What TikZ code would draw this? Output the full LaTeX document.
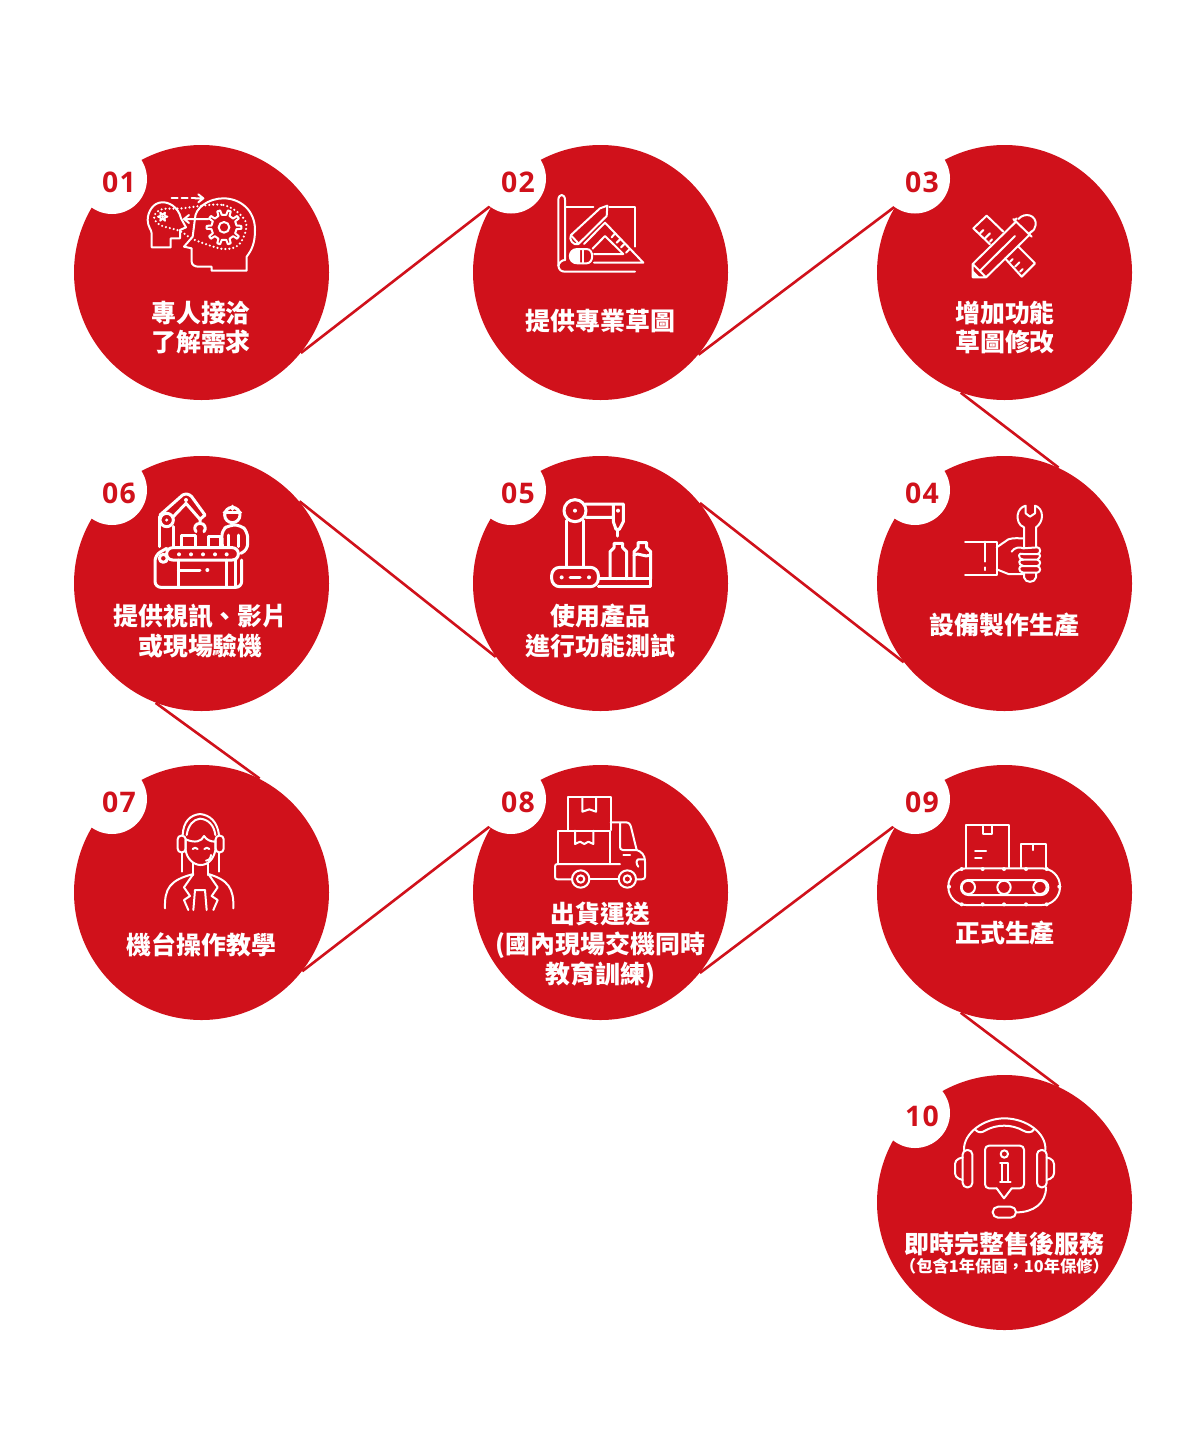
\documentclass[tikz,border=0pt]{standalone}
\usepackage{fontspec}
\setmainfont{Noto Sans}
\newfontfamily\cjk{Noto Sans CJK TC}
\newfontfamily\numf[LetterSpace=5]{Open Sans}
\definecolor{brandred}{HTML}{D0111B}
\tikzset{
  bigdisc/.style={circle,fill=brandred,draw=none,minimum size=127.5pt,inner sep=0pt},
  badge/.style={circle,fill=white,draw=none,minimum size=35pt,inner sep=0pt},
  numtext/.style={text=brandred,inner sep=0pt,font=\numf\bfseries\fontsize{14.2}{14.2}\selectfont},
  lab/.style={text=white,align=center,inner sep=0pt,font=\cjk\bfseries\fontsize{12.45}{14.9}\selectfont},
  labsmall/.style={text=white,align=center,inner sep=0pt,font=\cjk\bfseries\fontsize{8.15}{10}\selectfont},
  link/.style={draw=brandred,line width=1.3pt},
  zoomat/.style 2 args={shift={(#1,#2)},x=0.16667pt,y=-0.16667pt},
  thin icon/.style={draw=white,line width=1pt,line join=round,line cap=round,fill=none},
  thick icon/.style={draw=white,line width=1.5pt,line join=round,line cap=round,fill=none},
  white dot/.style={fill=white,draw=none},
}
\begin{document}
\begin{tikzpicture}[x=.5pt,y=-.5pt]
\useasboundingbox (0,0) rectangle (1200,1446);
% discs
\node[bigdisc] (c1) at (201.5,272.5) {};
\node[bigdisc] (c2) at (600.5,272.5) {};
\node[bigdisc] (c3) at (1004.5,272.5) {};
\node[bigdisc] (c6) at (201.5,583.5) {};
\node[bigdisc] (c5) at (600.5,583.5) {};
\node[bigdisc] (c4) at (1004.5,583.5) {};
\node[bigdisc] (c7) at (201.5,892.5) {};
\node[bigdisc] (c8) at (600.5,892.5) {};
\node[bigdisc] (c9) at (1004.5,892.5) {};
\node[bigdisc] (c10) at (1004.5,1202.5) {};
% connectors
\draw[link] (c1.-39) -- (c2.148);
\draw[link] (c2.-40.4) -- (c3.149);
\draw[link] (c3.-110.4) -- (c4.65);
\draw[link] (c4.218.3) -- (c5.39.3);
\draw[link] (c5.215.4) -- (c6.40.3);
\draw[link] (c6.-111.3) -- (c7.63.3);
\draw[link] (c7.-38.9) -- (c8.148.5);
\draw[link] (c8.-39.9) -- (c9.148.7);
\draw[link] (c9.-110.4) -- (c10.65);
% badges
\node[badge] (b1) at (112,179) {};
\node[badge] (b2) at (511,178.5) {};
\node[badge] (b3) at (915,178.5) {};
\node[badge] (b6) at (112,490) {};
\node[badge] (b5) at (511,490) {};
\node[badge] (b4) at (915,490) {};
\node[badge] (b7) at (112,799) {};
\node[badge] (b8) at (511,799) {};
\node[badge] (b9) at (915,799) {};
\node[badge] (b10) at (915,1113) {};
\node[numtext] (n1) at (119,182.5) {01};
\node[numtext] (n2) at (518,182.5) {02};
\node[numtext] (n3) at (922,182.5) {03};
\node[numtext] (n6) at (119,493.5) {06};
\node[numtext] (n5) at (518,493.5) {05};
\node[numtext] (n4) at (922,493.5) {04};
\node[numtext] (n7) at (119,802.5) {07};
\node[numtext] (n8) at (518,802.5) {08};
\node[numtext] (n9) at (922,802.5) {09};
\node[numtext] (n10) at (922,1116.5) {10};
% labels
\node[lab] (t1) at (201,327.5) {專人接洽\\了解需求};
\node[lab] (t2) at (600.5,321.5) {提供專業草圖};
\node[lab] (t3) at (1005,327.5) {增加功能\\草圖修改};
\node[lab] (t4) at (1004.5,625) {設備製作生產};
\node[lab] (t5) at (600.5,631) {使用產品\\進行功能測試};
\node[lab] (t6) at (200.5,631) {提供視訊、影片\\或現場驗機};
\node[lab] (t7) at (201.5,944.5) {機台操作教學};
\node[lab] (t8) at (600.5,945) {出貨運送\\(國內現場交機同時\\教育訓練)};
\node[lab] (t9) at (1005,933.5) {正式生產};
\node[lab] (t10) at (1004.5,1243.5) {即時完整售後服務};
\node[labsmall] (t10b) at (1004.5,1266) {（包含1年保固，10年保修）};
% icon 01
\begin{scope}[zoomat={80}{150}]
\draw[thin icon] (215,292) -- (272,292) -- (272,265) -- (300,265) -- (300,240) -- (318,232) -- (303,205)
  .. controls (295,170) and (265,155) .. (245,157) .. controls (220,158) and (203,185) .. (203,210)
  .. controls (203,230) and (215,240) .. (215,250) -- cycle;
\draw[thin icon] (500,362) -- (500,320) .. controls (515,300) and (525,280) .. (525,240)
  .. controls (525,180) and (480,145) .. (430,145) .. controls (385,145) and (345,175) .. (345,205)
  -- (338,260) -- (312,290) -- (335,295) -- (335,335) .. controls (335,345) and (345,350) .. (355,350)
  -- (395,350) -- (395,362) -- cycle;
\draw[draw=white,line width=1.2pt,line cap=round,dash pattern=on 0pt off 2pt] plot[smooth cycle,tension=.55] coordinates {(305,175) (430,165) (497,215) (480,280) (430,297) (340,268) (300,243) (240,225) (222,200) (245,178)};
\begin{scope}[shift={(432,232)}]
\draw[thin icon] (-8:38) \foreach \a in {0,36,...,324}{ -- (\a-8:38) -- (\a-5:52) -- (\a+5:52) -- (\a+8:38) -- (\a+28:38)} -- cycle;
\draw[thin icon] (0,0) circle (16);
\end{scope}
\begin{scope}[shift={(248,200)}]
\draw[thin icon] (-8:8) \foreach \a in {0,60,...,300}{ -- (\a-12:8) -- (\a:14) -- (\a+12:8) -- (\a+48:8)} -- cycle;
\fill[white dot] (0,0) circle (5);
\end{scope}
\draw[thin icon,dash pattern=on 3pt off 2pt] (275,145) -- (345,145);
\draw[thin icon] (345,145) -- (370,145) (355,133) -- (370,145) -- (355,157);
\draw[thin icon] (385,207) -- (312,207) (327,195) -- (312,207) -- (327,219);
\end{scope}
% icon 02
\begin{scope}[zoomat={490}{150}]
\draw[thin icon] (225,330) -- (225,150) .. controls (225,130) and (205,130) .. (205,150) -- (205,345) .. controls (205,360) and (215,365) .. (225,365) -- (435,365);
\draw[thin icon] (225,330) .. controls (215,330) and (207,338) .. (205,348);
\draw[thin icon] (225,172) -- (310,172) (358,172) -- (435,172) -- (435,290);
\draw[thin icon] (352,167) -- (330,175) -- (243,255) .. controls (235,268) and (250,288) .. (265,282) -- (350,198) -- cycle;
\draw[thin icon] (245,258) -- (265,280);
\draw[thin icon] (345,218) -- (282,282) (345,218) -- (460,338) -- (312,338);
\draw[thin icon] (345,258) -- (308,296) (345,258) -- (400,312) -- (312,312);
\draw[thin icon] (375,250) -- (365,262) (390,268) -- (380,278) (403,282) -- (393,292) (418,298) -- (408,308);
\draw[thin icon] (262,297) -- (290,297) .. controls (312,297) and (312,340) .. (290,340) -- (262,340) .. controls (232,340) and (232,297) .. (262,297) -- cycle;
\fill[white dot] (270,297) -- (262,297) .. controls (232,297) and (232,340) .. (262,340) -- (270,340) -- cycle;
\draw[thin icon] (280,297) -- (280,340);
\end{scope}
% icon 03
\begin{scope}[zoomat={890}{150}]
\draw[thin icon] (340,245) -- (290,197) -- (250,235) -- (300,283);
\draw[thin icon] (345,325) -- (395,380) -- (435,340) -- (385,290);
\draw[thin icon] (270,250) -- (280,240) (285,265) -- (300,250) (300,275) -- (306,268);
\draw[thin icon] (360,335) -- (368,327) (375,350) -- (388,337) (390,365) -- (398,357);
\draw[thin icon] (248,382) -- (248,342) -- (378,215) (248,382) -- (288,382) -- (418,255) (248,342) -- (288,382);
\draw[thin icon] (270,362) -- (375,258);
\draw[thin icon] (370,207) -- (425,260) (380,205) -- (372,212) (417,252) -- (425,244);
\draw[thin icon] (385,207) .. controls (405,185) and (440,195) .. (437,225) .. controls (437,235) and (430,242) .. (420,248);
\fill[white dot] (248,382) -- (248,360) -- (270,382) -- cycle;
\end{scope}
% icon 04
\begin{scope}[zoomat={940}{490}]
\draw[thin icon] (75,155) -- (170,155) -- (170,255) -- (75,255);
\draw[thin icon] (135,155) -- (135,215) (135,232) -- (135,240);
\draw[thin icon] (170,172) -- (205,148) .. controls (220,143) and (235,145) .. (250,145);
\draw[thin icon] (170,238) -- (205,252) -- (250,252);
\draw[thin icon] (215,185) .. controls (222,172) and (240,170) .. (250,175) -- (292,172) .. controls (303,172) and (303,192) .. (292,192) -- (250,192);
\draw[thin icon] (250,192) .. controls (235,185) and (230,205) .. (250,209) -- (292,209) .. controls (303,200) and (303,192) .. (292,192);
\draw[thin icon] (250,209) .. controls (235,205) and (232,225) .. (250,228) -- (292,228) .. controls (303,225) and (303,212) .. (292,209);
\draw[thin icon] (250,228) .. controls (235,225) and (232,245) .. (250,248) -- (292,248) .. controls (303,245) and (303,232) .. (292,228);
\draw[thin icon] (252,172) -- (252,112) .. controls (235,105) and (232,90) .. (233,75) .. controls (235,60) and (245,50) .. (257,47) -- (257,70) -- (270,80) -- (285,70) -- (285,47) .. controls (297,50) and (306,62) .. (306,78) .. controls (306,92) and (298,105) .. (288,112) -- (288,172);
\draw[thin icon] (252,250) -- (252,262) .. controls (255,280) and (285,280) .. (288,262) -- (288,250);
\end{scope}
% icon 05
\begin{scope}[zoomat={530}{480}]
\draw[thick icon,rounded corners=4pt] (65,320) -- (65,262) -- (205,262) -- (205,320) -- cycle;
\fill[white dot] (95,292) circle (6) (177,292) circle (6);
\draw[thick icon] (120,292) -- (150,292);
\draw[thick icon] (108,260) -- (108,122) (160,260) -- (160,122);
\draw[thick icon] (135,92) circle (33);
\fill[white dot] (135,92) circle (6);
\draw[thick icon] (167,72) -- (280,72) -- (280,125) -- (268,148) -- (258,148) -- (250,125) -- (250,72) (167,112) -- (250,112);
\fill[white dot] (264,92) circle (6);
\draw[thick icon] (263,148) -- (263,168);
\draw[thick icon] (240,296) -- (240,215) -- (252,203) -- (252,190) -- (278,190) -- (278,203) -- (290,215) -- (290,296);
\draw[thick icon] (312,296) -- (312,215) -- (324,203) -- (324,188) -- (350,188) -- (350,203) -- (362,215) -- (362,296);
\draw[thick icon] (312,225) .. controls (325,215) and (345,235) .. (362,225);
\draw[thick icon] (205,296) -- (362,296) -- (362,320) -- (205,320);
\end{scope}
% icon 06
\begin{scope}[zoomat={110}{480}]
\draw[thick icon,rounded corners=3pt] (170,203) -- (385,203) -- (385,240) -- (170,240) -- cycle;
\foreach \x in {207,243,279,315,350}{\fill[white dot] (\x,223) circle (6);}
\draw[thick icon] (160,235) circle (12);
\draw[thick icon,rounded corners=3pt] (170,205) -- (135,225) -- (135,322) -- (395,322) -- (395,240);
\draw[thick icon] (205,240) -- (205,322) (350,240) -- (350,322) (205,270) -- (270,270);
\fill[white dot] (292,270) circle (6);
\draw[thick icon] (215,200) -- (215,165) -- (255,165) -- (255,200) (295,200) -- (295,168) -- (330,168) -- (330,200);
\draw[thick icon] (148,200) -- (148,110) (190,200) -- (190,140);
\draw[thick icon] (170,120) circle (20);
\fill[white dot] (170,120) circle (5);
\draw[thick icon] (150,105) -- (218,45) .. controls (228,40) and (238,42) .. (245,50) -- (285,105) -- (270,118) -- (228,70) -- (188,112);
\fill[white dot] (228,60) circle (6);
\draw[thick icon] (270,118) -- (270,130) (270,130) .. controls (255,130) and (250,145) .. (258,155) (270,130) .. controls (285,130) and (290,145) .. (282,155);
\draw[thick icon] (367,105) circle (23);
\draw[thick icon] (342,98) -- (392,98) (367,78) -- (367,88);
\draw[thick icon,rounded corners=3pt] (337,200) -- (335,150) -- (358,135) -- (392,135) -- (413,155) -- (413,210) -- (392,220);
\draw[thick icon] (385,165) -- (385,200) (355,165) -- (355,200) (375,240) -- (375,322);
\end{scope}
% icon 07
\begin{scope}[zoomat={140}{800}]
\draw[thin icon] (128,105) .. controls (130,65) and (150,45) .. (180,42) .. controls (210,45) and (232,65) .. (237,105);
\draw[thin icon] (140,105) .. controls (145,75) and (160,58) .. (180,56) .. controls (205,58) and (222,75) .. (226,105);
\draw[thin icon,rounded corners=1.8pt] (113,107) rectangle (137,157);
\draw[thin icon,rounded corners=1.8pt] (227,107) rectangle (251,157);
\draw[thin icon] (137,120) -- (137,150) .. controls (140,175) and (160,195) .. (182,195) .. controls (205,195) and (222,175) .. (226,150) -- (226,120);
\draw[thin icon] (137,118) .. controls (165,130) and (185,125) .. (192,108) .. controls (200,120) and (212,125) .. (226,125);
\draw[thin icon] (158,147) .. controls (163,142) and (168,142) .. (173,147) (193,147) .. controls (198,142) and (203,142) .. (208,147);
\draw[thin icon] (213,165) .. controls (212,175) and (208,180) .. (198,182);
\draw[thin icon] (125,157) -- (125,215) (237,157) -- (237,215);
\draw[thin icon] (160,190) -- (160,225) (205,190) -- (205,225);
\draw[thin icon] (75,325) .. controls (73,265) and (90,240) .. (160,222) -- (132,262) -- (150,288) -- (132,300) -- (145,330);
\draw[thin icon] (280,325) .. controls (282,265) and (265,240) .. (205,222) -- (233,262) -- (215,288) -- (233,300) -- (220,330);
\draw[thin icon] (160,330) -- (165,270) -- (195,270) -- (200,330);
\end{scope}
% icon 08
\begin{scope}[zoomat={540}{790}]
\draw[thin icon] (85,120) -- (85,22) -- (212,22) -- (212,120);
\draw[thin icon] (127,22) -- (127,65) -- (148,58) -- (168,65) -- (168,22);
\draw[thin icon] (55,222) -- (55,122) -- (210,122) -- (210,222);
\draw[thin icon] (105,122) -- (105,162) -- (120,155) -- (133,162) -- (145,155) -- (160,162) -- (160,122);
\draw[thin icon] (212,97) -- (258,97) .. controls (268,97) and (272,105) .. (274,115) -- (290,180) -- (248,180) .. controls (242,180) and (240,175) .. (240,170) -- (240,97);
\draw[thin icon] (290,180) .. controls (305,185) and (315,195) .. (315,215) -- (315,260) .. controls (315,265) and (312,268) .. (305,268) -- (288,268);
\draw[thin icon] (250,195) -- (270,195);
\draw[thin icon] (315,208) -- (295,208) .. controls (288,210) and (288,222) .. (295,230);
\draw[thin icon] (95,268) -- (52,268) .. controls (47,268) and (45,265) .. (45,260) -- (45,230) .. controls (45,225) and (47,222) .. (52,222) -- (240,222);
\draw[thin icon] (148,268) -- (235,268);
\draw[thin icon] (122,267) circle (26) (122,267) circle (11);
\draw[thin icon] (262,267) circle (26) (262,267) circle (11);
\end{scope}
% icon 09
\begin{scope}[zoomat={940}{815}]
\draw[thin icon] (77,157) -- (77,30) -- (208,30) -- (208,157);
\draw[thin icon] (128,30) -- (128,58) -- (157,58) -- (157,30);
\draw[thin icon] (105,107) -- (138,107) (105,130) -- (125,130);
\draw[thin icon] (243,157) -- (243,88) -- (318,88) -- (318,157) (280,88) -- (280,105);
\draw[thin icon,rounded corners=9pt] (25,160) rectangle (360,270);
\draw[thin icon,rounded corners=3.6pt] (63,195) rectangle (325,240);
\foreach \x in {85,192,300}{\draw[thin icon] (\x,217) circle (20);}
\foreach \x/\y in {65/162,128/162,192/162,258/162,320/162,65/268,128/268,192/268,258/268,320/268,27/215,358/215}{\fill[white dot] (\x,\y) circle (6);}
\end{scope}
% icon 10
\begin{scope}[zoomat={890}{1100}]
\draw[thin icon] (222,150) .. controls (220,100) and (280,55) .. (343,55) .. controls (410,55) and (470,100) .. (466,150);
\draw[thin icon] (255,88) .. controls (265,100) and (275,98) .. (285,92) .. controls (320,72) and (365,72) .. (400,92) .. controls (410,98) and (425,100) .. (432,88);
\draw[thin icon,rounded corners=2.2pt] (218,150) rectangle (247,262);
\draw[thin icon,rounded corners=2.2pt] (441,150) rectangle (470,262);
\draw[thin icon,rounded corners=2pt] (218,172) -- (195,180) -- (195,232) -- (218,240);
\draw[thin icon,rounded corners=2pt] (470,172) -- (492,180) -- (492,232) -- (470,240);
\draw[thin icon,rounded corners=2pt] (320,265) -- (285,265) -- (285,137) -- (402,137) -- (402,265) -- (365,265);
\draw[thin icon] (320,265) -- (342,295) -- (365,265);
\draw[thin icon] (343,162) circle (11);
\draw[thin icon] (330,190) -- (355,190) -- (355,245) (337,190) -- (337,245) (330,245) -- (362,245);
\draw[thin icon] (468,262) .. controls (468,310) and (430,337) .. (380,337);
\draw[thin icon,rounded corners=2.7pt] (308,320) rectangle (378,353);
\end{scope}
\end{tikzpicture}
\end{document}
